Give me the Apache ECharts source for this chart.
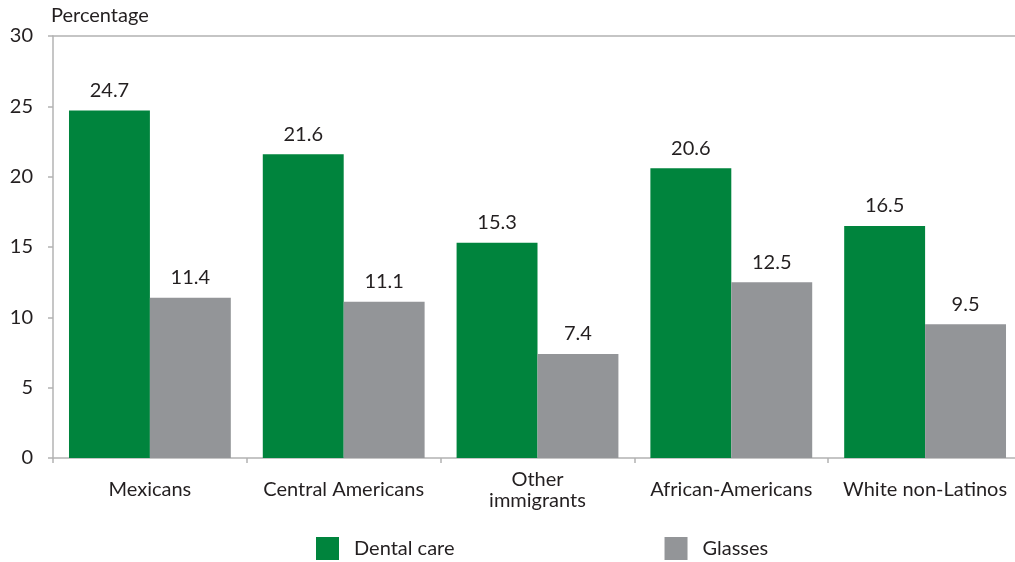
<!DOCTYPE html>
<html>
<head>
<meta charset="utf-8">
<script src="https://cdn.jsdelivr.net/npm/echarts@6/dist/echarts.min.js"></script>
<style>
  html, body { margin: 0; padding: 0; background: #fff; }
  #chart { width: 1015px; height: 562px; }
</style>
</head>
<body>
<div id="chart"></div>
<script>
const categories = ['Mexicans', 'Central Americans', 'Other\nimmigrants', 'African-Americans', 'White non-Latinos']
const dentalCare = [24.7, 21.6, 15.3, 20.6, 16.5]
const glasses = [11.4, 11.1, 7.4, 12.5, 9.5]
const yTicks = [0, 5, 10, 15, 20, 25, 30]

const font = 'Lato, "Open Sans", sans-serif'
const fontSize = 20
const textColor = '#231f20'
const axisColor = '#b3b3b3'

const chart = echarts.init(document.getElementById('chart'))

chart.setOption({
  animation: false,
  textStyle: { fontFamily: font, color: textColor },
  grid: { left: 53, width: 969, top: 36, bottom: 104, containLabel: false, outerBoundsMode: 'none' },
  legend: {
    left: 316,
    bottom: 2,
    padding: 0,
    itemWidth: 23,
    itemHeight: 23,
    itemGap: 210,
    icon: 'rect',
    textStyle: { fontFamily: font, fontSize: fontSize, color: textColor, padding: [0, 0, 0, 10] },
    data: ['Dental care', 'Glasses'],
  },
  xAxis: [{
    type: 'category',
    data: categories,
    axisLine: { lineStyle: { color: axisColor, width: 1.5 } },
    axisTick: { show: true, alignWithLabel: false, length: 5, lineStyle: { color: axisColor, width: 1.5 } },
    axisLabel: { color: textColor, fontSize: fontSize, fontFamily: font, margin: 32, lineHeight: 21, verticalAlign: 'middle', interval: 0 },
  }, {
    // top border line
    type: 'category',
    position: 'top',
    data: categories,
    axisLine: { show: true, lineStyle: { color: axisColor, width: 1.5 } },
    axisTick: { show: false },
    axisLabel: { show: false },
  }],
  yAxis: {
    type: 'value',
    min: yTicks[0],
    max: yTicks[yTicks.length - 1],
    interval: 5,
    name: 'Percentage',
    nameLocation: 'end',
    nameGap: 10,
    nameTextStyle: { color: textColor, fontSize: fontSize, fontFamily: font, align: 'left', padding: [0, 0, 0, -2] },
    axisLine: { show: true, lineStyle: { color: axisColor, width: 1.5 } },
    axisTick: { show: true, length: 5, lineStyle: { color: axisColor, width: 1.5 } },
    axisLabel: { color: textColor, fontSize: fontSize, fontFamily: font, margin: 20 },
    splitLine: { show: false },
  },
  series: [{
    name: 'Dental care',
    type: 'bar',
    data: dentalCare,
    barGap: '0%',
    barCategoryGap: '16.5%',
    itemStyle: { color: '#00843d' },
    label: { show: true, position: 'top', distance: 10, fontSize: fontSize, fontFamily: font, color: textColor, formatter: p => p.value.toFixed(1) },
  }, {
    name: 'Glasses',
    type: 'bar',
    data: glasses,
    barGap: '0%',
    barCategoryGap: '16.5%',
    itemStyle: { color: '#939598' },
    label: { show: true, position: 'top', distance: 10, fontSize: fontSize, fontFamily: font, color: textColor, formatter: p => p.value.toFixed(1) },
  }],
})
</script>
</body>
</html>
